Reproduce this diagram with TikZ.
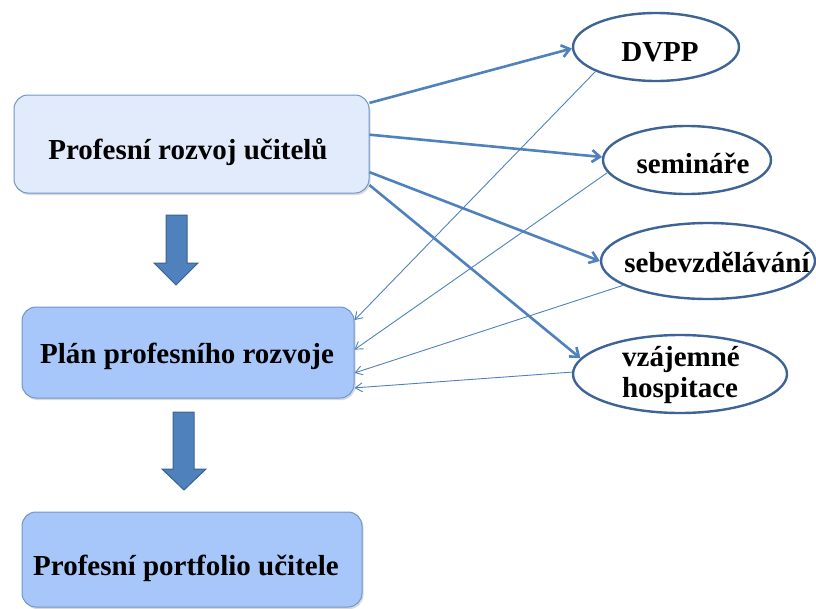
\documentclass[tikz,border=0pt]{standalone}
\usepackage{fontspec}
\setmainfont{Liberation Serif}[BoldFont={Liberation Serif Bold}]
\usetikzlibrary{shapes.geometric,arrows.meta,shadows}
\definecolor{obl}{HTML}{4F81BD}
\definecolor{dkb}{HTML}{3E6397}
\definecolor{boxb}{HTML}{7096C8}
\definecolor{fa}{HTML}{E1EBFB}
\definecolor{fb}{HTML}{A7C6F9}
\begin{document}
\begin{tikzpicture}[x=1pt,y=-1pt,
  box/.style={draw=boxb, line width=1pt, rounded corners=14pt, inner sep=0pt,
    drop shadow={opacity=0.3,shadow xshift=1.5pt,shadow yshift=-2pt}},
  oval/.style={ellipse, draw=dkb, line width=2.4pt, fill=white, inner sep=0pt},
  lbl/.style={anchor=base, font=\fontsize{29}{31}\selectfont\bfseries, inner sep=0pt},
  fwd/.style={draw=obl, line width=2.6pt, -{Straight Barb[length=8pt,width=12pt]}},
  back/.style={draw=obl, line width=0.9pt, -{Straight Barb[length=7pt,width=9pt]}},
  blk/.style={fill=obl, draw=obl!75!black, line width=1pt}]
\useasboundingbox (0,0) rectangle (816,608);

% boxes
\node[box, fill=fa, minimum width=355pt, minimum height=98pt] (b1) at (191.5,144) {};
\node[box, fill=fb, minimum width=332pt, minimum height=91pt] (b2) at (188,352.5) {};
\node[box, fill=fb, minimum width=340pt, minimum height=95pt] (b3) at (192,559.5) {};

\node[lbl] (t1) at (188,159) {Profesní rozvoj učitelů};
\node[lbl] (t2) at (187,363) {Plán profesního rozvoje};
\node[lbl] (t3) at (186,575) {Profesní portfolio učitele};

% block arrows
\draw[blk] (166,215) -- (187,215) -- (187,263) -- (198,263) -- (176,285) -- (154,263) -- (166,263) -- cycle;
\draw[blk] (173,412) -- (194,412) -- (194,469) -- (206,469) -- (184,490) -- (162,469) -- (173,469) -- cycle;

% ellipses
\node[oval, minimum width=166pt, minimum height=68pt] (e1) at (656,47) {};
\node[oval, minimum width=168pt, minimum height=68pt] (e2) at (687,160) {};
\node[oval, minimum width=214pt, minimum height=76pt] (e3) at (708,261) {};
\node[oval, minimum width=214pt, minimum height=78pt] (e4) at (680,374) {};

\node[lbl] (s1) at (660,61) {DVPP};
\node[lbl] (s2) at (693,173) {semináře};
\node[lbl] (s3) at (717,272) {sebevzdělávání};
\node[lbl] (s4) at (681,366) {vzájemné};
\node[lbl] (s5) at (680,397) {hospitace};

% forward arrows
\draw[fwd] (b1.13) -- (e1.181);
\draw[fwd] (b1.3.5) -- (e2.178);
\draw[fwd] (b1.-9) -- (e3.180);
\draw[fwd] (b1.-13.6) -- (e4.171);

% back arrows
\draw[back] (e1.202) -- (b2.11);
\draw[back] (e2.189) -- (b2.1);
\draw[back] (e3.196) -- (b2.-7);
\draw[back] (e4.179) -- (b2.-12.7);
\end{tikzpicture}
\end{document}
